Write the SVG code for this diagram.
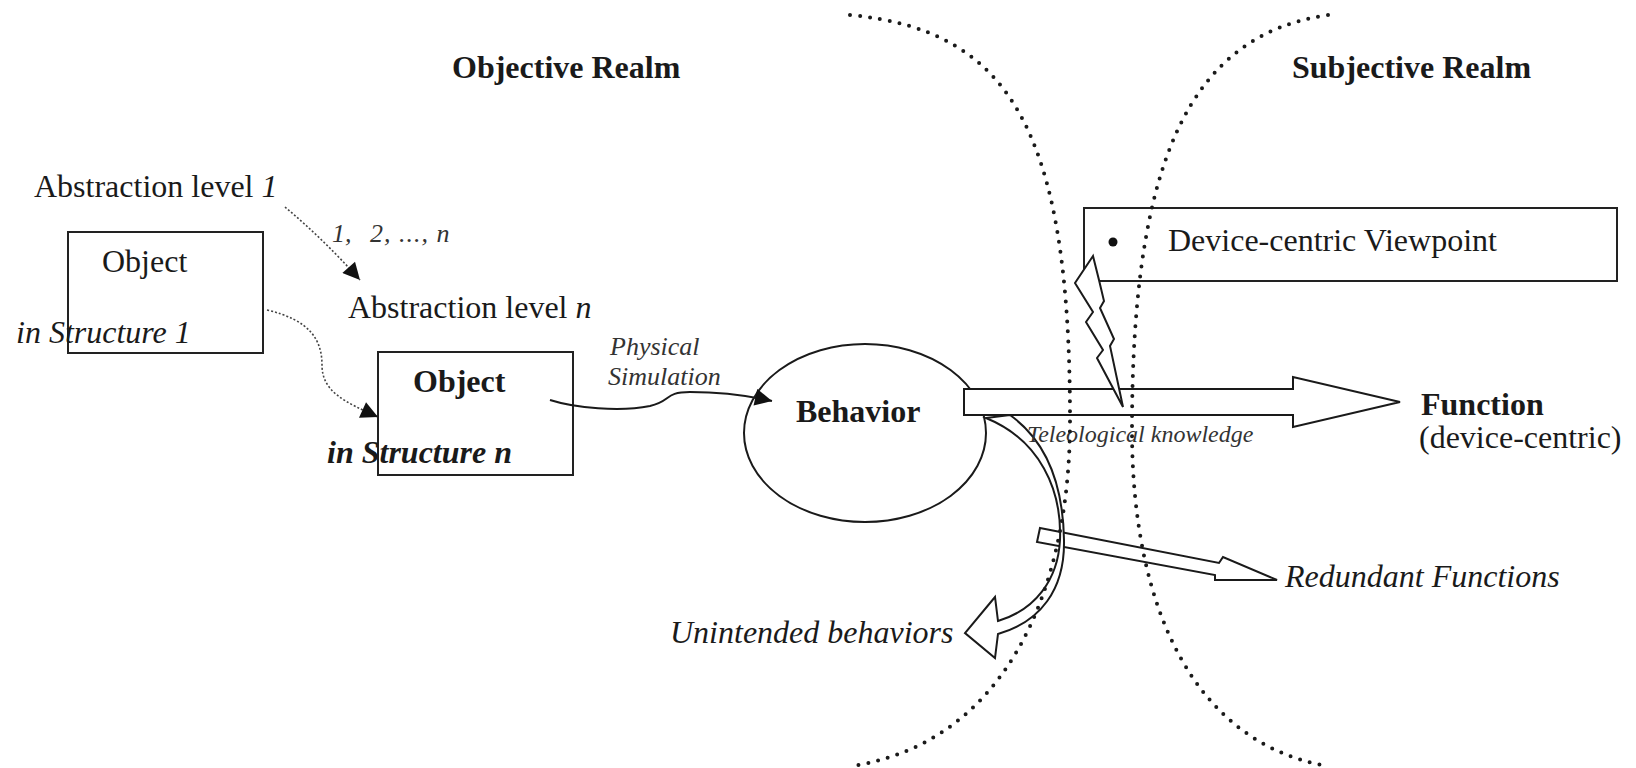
<svg xmlns="http://www.w3.org/2000/svg" width="1636" height="768" viewBox="0 0 1636 768">
<style>
text{font-family:"Liberation Serif","Times New Roman",serif;fill:#1a1a1a;font-size:32px}
.b{font-weight:bold}
.i{font-style:italic}
.sm{font-size:26px;fill:#333}
.tk{font-size:24px;fill:#333}
.box{fill:#fff;stroke:#222;stroke-width:2}
.hollow{fill:#fff;stroke:#1a1a1a;stroke-width:2;stroke-linejoin:miter}
.fine{fill:none;stroke:#444;stroke-width:1.6;stroke-dasharray:2 2}
.line{fill:none;stroke:#1a1a1a;stroke-width:2}
.realm{fill:none;stroke:#1a1a1a;stroke-width:4;stroke-dasharray:0 10;stroke-linecap:round}
</style>
<defs>
<marker id="tri" viewBox="0 0 10 10" refX="10" refY="5" markerUnits="userSpaceOnUse" markerWidth="22" markerHeight="17" orient="auto">
<path d="M0,0 L10,5 L0,10 Z" fill="#111" stroke="none"/>
</marker>
</defs>
<rect width="1636" height="768" fill="#fff"/>

<g id="realm-labels">
<text class="b" x="452" y="78">Objective Realm</text>
<text class="b" x="1292" y="78">Subjective Realm</text>
</g>

<g id="abstraction-level-1"><text x="34" y="197">Abstraction level <tspan class="i">1</tspan></text></g>
<g id="abstraction-range"><text class="i sm" x="332" y="242">1,<tspan x="370" letter-spacing="1">2, ..., n</tspan></text></g>
<g id="abstraction-level-n"><text x="348" y="318">Abstraction level <tspan class="i">n</tspan></text></g>

<g id="object-1">
<rect class="box" x="68" y="232" width="195" height="121"/>
<text x="102" y="272">Object</text>
<text class="i" x="16" y="343">in Structure 1</text>
</g>

<g id="object-n">
<rect class="box" x="378" y="352" width="195" height="123"/>
<text class="b" x="413" y="392">Object</text>
<text class="b i" x="327" y="463">in Structure n</text>
</g>

<g id="behavior">
<ellipse cx="865" cy="433" rx="121" ry="89" fill="#fff" stroke="#1a1a1a" stroke-width="2"/>
<text class="b" x="796" y="422">Behavior</text>
</g>

<g id="physical-simulation-label">
<text class="i sm" x="610" y="355">Physical</text>
<text class="i sm" x="608" y="385">Simulation</text>
</g>

<g id="device-viewpoint">
<rect class="box" x="1084" y="208" width="533" height="73"/>
<circle cx="1113" cy="242" r="4.5" fill="#111"/>
<text x="1168" y="251">Device-centric Viewpoint</text>
</g>

<g id="function">
<text class="b" x="1421" y="415">Function</text>
<text x="1419" y="448">(device-centric)</text>
</g>

<g id="redundant-label"><text class="i" x="1285" y="587">Redundant Functions</text></g>
<g id="unintended-label"><text class="i" x="670" y="643">Unintended behaviors</text></g>

<g id="connectors">
<path class="fine" d="M285,207 C310,228 335,252 360,280" marker-end="url(#tri)"/>
<path class="fine" d="M267,310 C310,320 322,340 322,365 C322,392 345,402 378,417" marker-end="url(#tri)"/>
<path class="line" d="M550,400 C575,408 620,412 650,406 C672,401 664,392 690,392 C720,392 750,396 772,401" marker-end="url(#tri)"/>
<polygon class="hollow" stroke-width="2.5" points="964,389 1293,389 1293,377 1400,402 1293,427 1293,415 964,415"/>
<polygon class="hollow" points="1040,528 1219,563 1223,557 1277,580 1215,580 1215,575 1037,542"/>
<path class="hollow" d="M986,418 C1040,440 1062,490 1060,540 C1058,580 1035,610 998,621 L995,597 L965,633 L995,658 L998,634 C1040,622 1065,590 1064,540 C1063,480 1045,440 1010,415 Z"/>
<polygon class="hollow" stroke-width="1.8" points="1093,256 1075,283 1093,312 1086,322 1103,350 1097,358 1123,407 1110,346 1114,339 1100,308 1104,301 1099,280"/>
</g>

<g id="teleological-label"><text class="i tk" x="1027" y="442">Teleological knowledge</text></g>

<g id="realm-boundaries">
<path class="realm" d="M850,15 C1010,30 1070,130 1070,420 C1070,600 1000,740 858,765"/>
<path class="realm" d="M1328,15 C1190,35 1132,160 1132,430 C1132,610 1195,740 1322,765"/>
</g>
</svg>
